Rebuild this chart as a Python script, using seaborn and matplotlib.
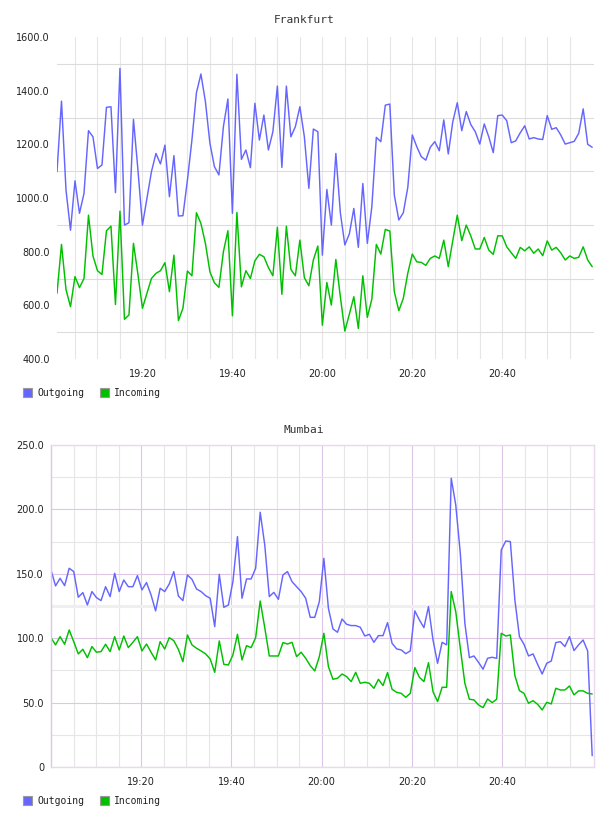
import numpy as np
import pandas as pd
import matplotlib
matplotlib.use("Agg")
import matplotlib.pyplot as plt
import matplotlib.dates as mdates
from matplotlib.patches import Patch
import seaborn as sns

# ---------------- data ----------------
series_names = ["Outgoing", "Incoming"]
series_colors = ["#6666ff", "#00c000"]
time_ticks = ["19:20", "19:40", "20:00", "20:20", "20:40"]
day = "2024-01-01 "

frankfurt_title = "Frankfurt"
frankfurt_start = "19:01"
frankfurt_outgoing = [
    1098, 1361, 1030, 880, 1064, 943, 1017, 1251, 1228, 1110,
    1123, 1338, 1340, 1020, 1483, 899, 908, 1293, 1104, 899,
    999, 1098, 1166, 1127, 1197, 1005, 1158, 933, 934, 1067,
    1216, 1392, 1462, 1359, 1204, 1117, 1086, 1266, 1369, 943,
    1461, 1144, 1179, 1113, 1353, 1216, 1309, 1179, 1247, 1417,
    1114, 1417, 1228, 1266, 1340, 1228, 1036, 1257, 1247, 787,
    1032, 899, 1166, 945, 825, 866, 961, 816, 1054, 831,
    967, 1226, 1210, 1346, 1350, 1011, 918, 945, 1040, 1235,
    1191, 1154, 1141, 1189, 1210, 1176, 1291, 1164, 1284, 1355,
    1251, 1322, 1274, 1247, 1201, 1276, 1228, 1169, 1307, 1309,
    1288, 1206, 1213, 1243, 1269, 1220, 1225, 1220, 1218, 1307,
    1256, 1262, 1235, 1201, 1206, 1211, 1241, 1332, 1200, 1189,
]
frankfurt_incoming = [
    645, 827, 659, 595, 707, 666, 700, 936, 784, 729,
    715, 878, 895, 603, 951, 548, 564, 831, 715, 589,
    645, 700, 719, 729, 759, 651, 787, 543, 589, 728,
    710, 945, 905, 831, 725, 684, 667, 800, 878, 561,
    946, 669, 729, 700, 766, 790, 781, 741, 710, 891,
    641, 895, 734, 710, 843, 703, 673, 769, 821, 526,
    685, 601, 771, 632, 504, 567, 632, 514, 710, 555,
    623, 827, 791, 883, 877, 651, 580, 626, 720, 791,
    762, 760, 749, 775, 784, 775, 843, 744, 841, 936,
    841, 899, 859, 810, 810, 853, 806, 790, 859, 859,
    818, 796, 775, 816, 803, 818, 794, 810, 785, 840,
    806, 816, 796, 769, 784, 775, 779, 818, 769, 744,
]
frankfurt_yticks = [400, 600, 800, 1000, 1200, 1400, 1600]
frankfurt_ylabels = ["400.0", "600.0", "800.0", "1000.0", "1200.0", "1400.0", "1600.0"]
frankfurt_yminor = [500, 700, 900, 1100, 1300, 1500]

mumbai_title = "Mumbai"
mumbai_start = "19:00"
mumbai_outgoing = [
    153, 140.6, 146.5, 140.8, 154.3, 151.7, 131.8, 135.4, 125.8, 136.2,
    131.5, 129.2, 140, 132.3, 150.4, 136.2, 145.2, 140, 140, 148.6,
    137.5, 143.2, 133.6, 121.2, 138.8, 136.2, 142.1, 151.7, 132.8, 129.2,
    149.1, 145.7, 138.2, 136.2, 133, 131, 109, 149.6, 124, 125.8,
    143.9, 178.9, 131, 146, 146, 154.3, 197.8, 172.4, 132.3, 135.6,
    130.2, 149.1, 151.7, 143.9, 140, 136.2, 131, 116.2, 116.2, 128.4,
    162, 123.2, 107.2, 104.6, 114.9, 110.8, 109.8, 109.8, 108.5, 101.7,
    103, 96.8, 102, 102, 112.1, 96, 91.7, 90.9, 88, 90.1,
    121.2, 114.2, 108.2, 124.5, 98.6, 80.5, 96.8, 94.8, 224.2, 203.4,
    165.9, 111.6, 84.9, 86.2, 81.3, 75.9, 84.4, 85.2, 84.4, 168.5,
    175.5, 175, 129.7, 101.2, 95.3, 86.2, 87.8, 79.7, 72.2, 80.5,
    82.3, 96.6, 97.3, 93.5, 101.2, 90.4, 94.8, 98.6, 90.1, 8.8,
]
mumbai_incoming = [
    100.4, 94.8, 101.2, 95.3, 106.4, 97.3, 87.8, 91.4, 84.9, 93.5,
    89.1, 89.6, 95.3, 89.6, 101.2, 90.9, 101.7, 92.7, 96.8, 101.2,
    90.1, 95.5, 89.1, 83.1, 97.3, 91.6, 100.4, 98.1, 91.4, 81.8,
    102.5, 94.8, 92.2, 90.1, 87.8, 83.9, 73.5, 97.9, 79.7, 79.2,
    87, 103, 83.1, 94.2, 92.7, 100.4, 128.9, 108.2, 86.2, 86.2,
    86.2, 96.6, 95.5, 96.8, 85.7, 89.1, 84.4, 78.7, 74.6, 85.7,
    103.8, 77.9, 68.1, 68.9, 72.2, 70.2, 66.3, 73.5, 65, 65.8,
    65, 61.1, 68.1, 63.2, 73.3, 60.3, 58, 57.2, 54.1, 57.2,
    77.2, 69.7, 66.3, 81, 58.5, 50.8, 61.9, 61.9, 136.2, 120.6,
    92.2, 65, 52.6, 52.1, 48.2, 46.1, 52.8, 50, 52.6, 103.8,
    101.7, 102.5, 71, 59.3, 57.2, 49.5, 51.5, 48.7, 44.3, 50.2,
    49, 61.1, 59.8, 59.8, 62.9, 56, 59.1, 59.1, 57.2, 56.7,
]
mumbai_yticks = [0, 50, 100, 150, 200, 250]
mumbai_ylabels = ["0", "50.0", "100.0", "150.0", "200.0", "250.0"]
mumbai_yminor = [25, 75, 125, 175, 225]

# ---------------- style ----------------
sns.set_style("white")
plt.rcParams["font.family"] = ["DejaVu Sans"]

W, H = 608, 816
fig = plt.figure(figsize=(W / 100, H / 100), dpi=100)

GRAY_H = "#dcdcdc"
GRAY_V = "#e6e6e6"
PURPLE = "#dfc6e6"
SPINE = "#e9d8ee"
TXT = "#222222"


def make_frame(values_out, values_in, start, freq):
    times = pd.date_range(day + start, periods=len(values_out), freq=freq)
    return pd.DataFrame({
        "time": np.concatenate([times, times]),
        "value": np.concatenate([values_out, values_in]),
        "series": [series_names[0]] * len(times) + [series_names[1]] * len(times),
    }), times


def draw_panel(rect, title, title_y, vals_out, vals_in, start, freq, end_pad,
               yticks, ylabels, yminor, style, legend_y):
    ax = fig.add_axes(rect)
    df, times = make_frame(vals_out, vals_in, start, freq)
    sns.lineplot(data=df, x="time", y="value", hue="series",
                 palette=dict(zip(series_names, series_colors)),
                 estimator=None, sort=False, linewidth=1.05, legend=False, ax=ax)
    ax.set_xlim(mdates.date2num(times[0]),
                mdates.date2num(times[-1] + pd.Timedelta(seconds=end_pad)))
    ax.set_ylim(yticks[0], yticks[-1])

    major = [mdates.date2num(pd.Timestamp(day + t)) for t in time_ticks]
    minor_all = pd.date_range(day + "19:05", day + "20:55", freq="5min")
    minor = [mdates.date2num(t) for t in minor_all if t.strftime("%H:%M") not in time_ticks]
    ax.set_xticks(major)
    ax.set_xticklabels(time_ticks)
    ax.set_xticks(minor, minor=True)
    ax.set_yticks(yticks)
    ax.set_yticklabels(ylabels)
    ax.set_yticks(yminor, minor=True)
    ax.set_xlabel("")
    ax.set_ylabel("")
    ax.tick_params(which="both", length=0)
    ax.tick_params(axis="x", pad=7.5, labelsize=7, labelcolor=TXT)
    ax.tick_params(axis="y", pad=5, labelsize=7, labelcolor=TXT)
    ax.set_axisbelow(True)

    if style == "plain":
        ax.xaxis.grid(True, which="both", color=GRAY_V, linewidth=0.8)
        ax.yaxis.grid(False, which="major")
        ax.yaxis.grid(True, which="minor", color=GRAY_H, linewidth=0.8)
        for s in ax.spines.values():
            s.set_visible(False)
    else:
        ax.xaxis.grid(True, which="major", color=PURPLE, linewidth=0.8)
        ax.xaxis.grid(True, which="minor", color=GRAY_V, linewidth=0.8)
        ax.yaxis.grid(True, which="major", color=PURPLE, linewidth=0.8)
        ax.yaxis.grid(True, which="minor", color=GRAY_V, linewidth=0.8)
        for tk, loc in zip(ax.yaxis.get_minor_ticks(), yminor):
            if loc == 125:
                tk.gridline.set_linewidth(2.2)
                tk.gridline.set_color("#efefef")
        for s in ax.spines.values():
            s.set_visible(True)
            s.set_color(SPINE)
            s.set_linewidth(1.0)
        ax.spines["left"].set_color(PURPLE)

    fig.text(0.5, 1 - title_y / H, title, ha="center", va="center",
             fontsize=8, family="DejaVu Sans Mono", color="#333333")

    handles = [Patch(facecolor=c, edgecolor="#999999", linewidth=0.8) for c in series_colors]
    leg = ax.legend(handles, series_names, loc="center left",
                    bbox_to_anchor=(23 / W, 1 - legend_y / H),
                    bbox_transform=fig.transFigure, frameon=False, ncol=2,
                    handlelength=0.95, handleheight=0.95, handletextpad=0.5,
                    columnspacing=1.6, borderpad=0, borderaxespad=0,
                    prop={"family": "DejaVu Sans Mono", "size": 7})
    for t in leg.get_texts():
        t.set_color(TXT)
    return ax


# Frankfurt: plot area x 57..594, y 37..359 (pixels)
draw_panel([57 / W, 1 - 359 / H, 537 / W, 322 / H], frankfurt_title, 20,
           frankfurt_outgoing, frankfurt_incoming, frankfurt_start, "1min", 24,
           frankfurt_yticks, frankfurt_ylabels, frankfurt_yminor, "plain", 393)

# Mumbai: plot area x 51..594, y 445..767 (pixels)
draw_panel([51 / W, 1 - 767 / H, 543 / W, 322 / H], mumbai_title, 430,
           mumbai_outgoing, mumbai_incoming, mumbai_start, "60500ms", 24,
           mumbai_yticks, mumbai_ylabels, mumbai_yminor, "grid", 801)

fig.savefig("out.png", dpi=100)
